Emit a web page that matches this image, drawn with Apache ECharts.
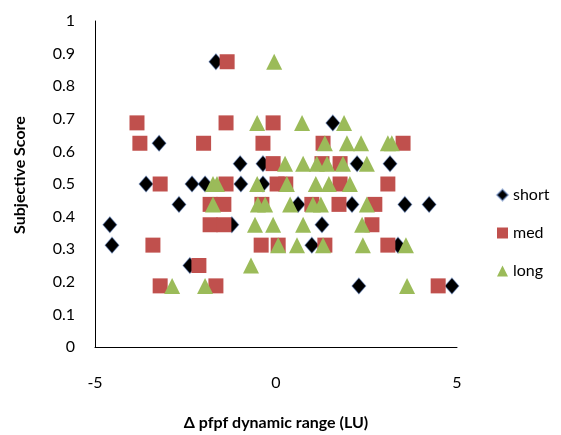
<!DOCTYPE html>
<html>
<head>
<meta charset="utf-8">
<script src="https://cdn.jsdelivr.net/npm/echarts@6/dist/echarts.min.js"></script>
<style>
html,body{margin:0;padding:0;background:#fff;}
#chart{width:561px;height:435px;}
</style>
</head>
<body>
<div id="chart"></div>
<script>
var xTicks = [-5, 0, 5];
var yTicks = [0, 0.1, 0.2, 0.3, 0.4, 0.5, 0.6, 0.7, 0.8, 0.9, 1];
var seriesNames = ['short', 'med', 'long'];

var shortData = [
  [-1.66,0.875],
  [1.57,0.6875],
  [-3.23,0.625],
  [-0.99,0.5625],[-0.36,0.5625],[2.24,0.5625],[3.15,0.5625],
  [-3.59,0.5],[-2.32,0.5],[-1.96,0.5],[-0.97,0.5],[-0.36,0.5],
  [-2.68,0.4375],[0.61,0.4375],[2.1,0.4375],[3.56,0.4375],[4.23,0.4375],
  [-4.59,0.375],[-1.22,0.375],[1.27,0.375],
  [-4.53,0.3125],[0.99,0.3125],[3.37,0.3125],
  [-2.38,0.25],
  [2.29,0.1875],[4.86,0.1875]
];
var medData = [
  [-1.35,0.875],
  [-3.84,0.6875],[-1.38,0.6875],[-0.08,0.6875],
  [-3.76,0.625],[-2.0,0.625],[-0.36,0.625],[1.3,0.625],[3.51,0.625],
  [-0.08,0.5625],[1.27,0.5625],[1.77,0.5625],
  [-3.2,0.5],[-1.38,0.5],[0.03,0.5],[0.27,0.5],[1.77,0.5],[3.09,0.5],
  [-1.82,0.4375],[-1.44,0.4375],[-0.39,0.4375],[0.99,0.4375],[1.74,0.4375],[2.73,0.4375],
  [-1.82,0.375],[-1.44,0.375],[2.65,0.375],
  [-3.4,0.3125],[-0.41,0.3125],[0.06,0.3125],[1.35,0.3125],[3.09,0.3125],
  [-2.13,0.25],
  [-3.2,0.1875],[-1.66,0.1875],[4.48,0.1875]
];
var longData = [
  [-0.05,0.875],
  [-0.52,0.6875],[0.72,0.6875],[1.88,0.6875],
  [1.35,0.625],[1.96,0.625],[2.35,0.625],[3.09,0.625],[3.2,0.625],
  [0.25,0.5625],[0.75,0.5625],[1.13,0.5625],[1.41,0.5625],[1.85,0.5625],[2.51,0.5625],
  [-1.74,0.5],[-1.63,0.5],[-0.52,0.5],[0.3,0.5],[1.1,0.5],[1.46,0.5],[2.04,0.5],
  [-1.74,0.4375],[-0.5,0.4375],[-0.3,0.4375],[0.39,0.4375],[1.02,0.4375],[1.24,0.4375],[2.51,0.4375],
  [-0.58,0.375],[-0.08,0.375],[0.75,0.375],[2.38,0.375],
  [0.06,0.3125],[0.58,0.3125],[1.3,0.3125],[2.4,0.3125],[3.59,0.3125],
  [-0.69,0.25],
  [-2.87,0.1875],[-1.96,0.1875],[3.62,0.1875]
];

var FONT = 'Lato, "Open Sans", sans-serif';
var chart = echarts.init(document.getElementById('chart'), null, {renderer: 'canvas'});
chart.setOption({
  animation: false,
  backgroundColor: '#ffffff',
  grid: {left: 95, right: 104, top: 21, bottom: 88, containLabel: false, outerBoundsMode: 'none'},
  legend: {
    orient: 'vertical',
    left: 491,
    top: 182,
    itemWidth: 11,
    itemHeight: 11,
    itemGap: 22,
    textStyle: {fontFamily: FONT, fontSize: 16, color: '#000'},
    data: [
      {name: seriesNames[0], icon: 'diamond'},
      {name: seriesNames[1], icon: 'rect'},
      {name: seriesNames[2], icon: 'triangle'}
    ]
  },
  xAxis: {
    type: 'value',
    min: xTicks[0],
    max: xTicks[xTicks.length - 1],
    interval: 5,
    name: 'Δ pfpf dynamic range (LU)',
    nameLocation: 'middle',
    nameGap: 68,
    nameTextStyle: {fontFamily: FONT, fontSize: 16, fontWeight: 'bold', color: '#000'},
    axisLine: {show: true, onZero: false, lineStyle: {color: '#000', width: 1}},
    axisTick: {show: false},
    splitLine: {show: false},
    axisLabel: {fontFamily: FONT, fontSize: 16, color: '#000', margin: 28}
  },
  yAxis: {
    type: 'value',
    min: yTicks[0],
    max: yTicks[yTicks.length - 1],
    interval: 0.1,
    name: 'Subjective Score',
    nameLocation: 'middle',
    nameGap: 67,
    nameRotate: 90,
    nameTextStyle: {fontFamily: FONT, fontSize: 16, fontWeight: 'bold', color: '#000', padding: [0, 0, 0, 18]},
    axisLine: {show: true, onZero: false, lineStyle: {color: '#000', width: 1}},
    axisTick: {show: false},
    splitLine: {show: false},
    axisLabel: {fontFamily: FONT, fontSize: 16, color: '#000', margin: 20,
      formatter: function (v) { return String(Math.round(v * 10) / 10); }}
  },
  series: [
    {
      name: seriesNames[0], type: 'scatter', data: shortData,
      symbol: 'diamond', symbolSize: [14, 16],
      itemStyle: {color: '#000000', opacity: 1, borderColor: 'rgba(80,120,190,0.45)', borderWidth: 1}
    },
    {
      name: seriesNames[1], type: 'scatter', data: medData,
      symbol: 'rect', symbolSize: 15,
      itemStyle: {color: '#C0504D', opacity: 1}
    },
    {
      name: seriesNames[2], type: 'scatter', data: longData,
      symbol: 'triangle', symbolSize: 16,
      itemStyle: {color: '#9BBB59', opacity: 1}
    }
  ]
});
</script>
</body>
</html>
